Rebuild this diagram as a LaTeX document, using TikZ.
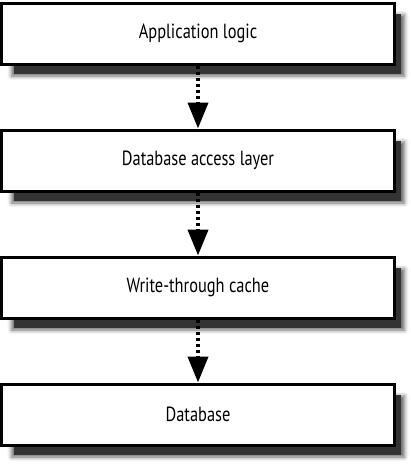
\documentclass[tikz,border=0pt]{standalone}
\usepackage{fontspec}
\setmainfont{PT Sans}[FakeStretch=0.8]
\usepackage{tikz}
\usetikzlibrary{arrows.meta,positioning,shadows,shadows.blur}
\tikzset{
  flow/.style={-{Triangle[width=20pt,length=26pt]},line width=4pt,
               dash pattern=on 3pt off 3pt,draw=black},
  box/.style={draw=black,line width=3pt,fill=white,align=center,
              minimum width=393pt,minimum height=61pt,font=\fontsize{20.5}{24}\selectfont,
              blur shadow={shadow xshift=10pt,shadow yshift=-12pt,
                           shadow blur radius=4pt,shadow opacity=60},
              drop shadow={shadow xshift=10pt,shadow yshift=-11pt,
                           shadow scale=0.985,fill=black!80,opacity=1}}
}
\begin{document}
\begin{tikzpicture}[node distance=63pt,x=1pt,y=1pt]
  \useasboundingbox (0,0) rectangle (411,-466);
  \node[box] (app) at (198,-33.5) {Application logic};
  \node[box,below=of app] (dal) {Database access layer};
  \node[box,below=of dal] (cache) {Write-through cache};
  \node[box,below=of cache] (db) {Database};
  \draw[flow] (app)--(dal);
  \draw[flow] (dal)--(cache);
  \draw[flow] (cache)--(db);
\end{tikzpicture}
\end{document}
